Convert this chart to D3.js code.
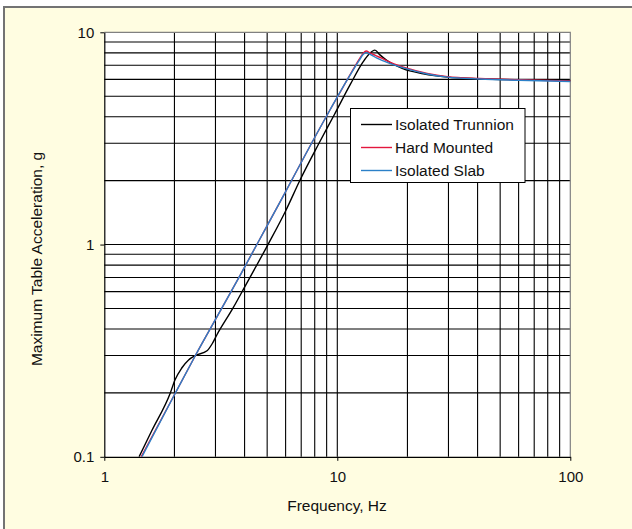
<!DOCTYPE html>
<html>
<head>
<meta charset="utf-8">
<script src="https://cdn.jsdelivr.net/npm/d3@7.9.0/dist/d3.min.js"></script>
<style>
  body { margin: 0; background: #fff; }
  svg text { font-family: "Liberation Sans", Arial, sans-serif; fill: #111; }
</style>
</head>
<body>
<svg id="chart" width="632" height="529"></svg>
<script>
// values (frequency in Hz, acceleration in g)
const trunnionF = [1.41, 1.6, 1.92, 2.01, 2.15, 2.3, 2.46, 2.76, 2.9, 3.04, 3.56, 4.0, 5.04, 6.0, 6.93, 8.29, 9.72, 11.4, 12.9, 13.7, 14.5, 15.2, 16.3, 19.1, 23.4, 29.7, 40.8, 60, 100];
const trunnionA = [0.1, 0.133, 0.2, 0.23, 0.262, 0.286, 0.3, 0.316, 0.34, 0.375, 0.5, 0.63, 1.0, 1.44, 2.02, 2.96, 4.1, 5.71, 7.25, 7.9, 8.24, 7.85, 7.38, 6.74, 6.38, 6.15, 6.04, 5.97, 5.93];

const hardF = [1.44, 2.0, 2.46, 3.19, 3.89, 4.56, 5.79, 7.36, 9.35, 10.96, 11.8, 12.4, 12.9, 13.3, 13.8, 14.5, 15.5, 17, 19.9, 24.3, 29.7, 40.8, 60, 100];
const hardA = [0.1, 0.196, 0.3, 0.5, 0.74, 1.02, 1.65, 2.7, 4.35, 5.9, 6.8, 7.45, 7.95, 8.17, 8.0, 7.8, 7.55, 7.2, 6.78, 6.4, 6.18, 6.06, 5.98, 5.9];

const slabF = [1.45, 2.0, 2.46, 3.19, 3.89, 4.56, 5.79, 7.36, 9.35, 10.96, 11.8, 12.4, 12.9, 13.3, 13.9, 14.8, 17, 19.9, 24.3, 29.7, 40.8, 60, 100];
const slabA = [0.1, 0.196, 0.3, 0.5, 0.74, 1.02, 1.65, 2.7, 4.35, 5.9, 6.75, 7.35, 7.85, 8.02, 7.85, 7.55, 7.1, 6.72, 6.36, 6.15, 6.03, 5.94, 5.86];

const seriesNames = ["Isolated Trunnion", "Hard Mounted", "Isolated Slab"];
const seriesColors = ["#000000", "#e3173e", "#2b80c8"];

const xTicks = [1, 10, 100];
const yTicks = [0.1, 1, 10];
const xGrid = [2, 3, 4, 5, 6, 7, 8, 9, 10, 20, 30, 40, 50, 60, 70, 80, 90];
const yGrid = [0.2, 0.3, 0.4, 0.5, 0.6, 0.7, 0.8, 0.9, 1, 2, 3, 4, 5, 6, 7, 8, 9];

const svg = d3.select("#chart");
const usableArea = { left: 104.3, right: 570.3, top: 32.3, bottom: 456.8 };

// page frame
svg.append("rect")
  .attr("x", 4).attr("y", 7)
  .attr("width", 640).attr("height", 540)
  .attr("fill", "#fffde1")
  .attr("stroke", "#737373")
  .attr("stroke-width", 2);

const xScale = d3.scaleLog().domain([1, 100]).range([usableArea.left, usableArea.right]);
const yScale = d3.scaleLog().domain([0.1, 10]).range([usableArea.bottom, usableArea.top]);

svg.append("rect")
  .attr("x", usableArea.left).attr("y", usableArea.top)
  .attr("width", usableArea.right - usableArea.left)
  .attr("height", usableArea.bottom - usableArea.top)
  .attr("fill", "#fff");

const grid = svg.append("g").attr("stroke", "#000").attr("stroke-width", 1.1);
grid.selectAll("line.v")
  .data(xGrid)
  .join("line")
  .attr("class", "v")
  .attr("x1", (d) => xScale(d)).attr("x2", (d) => xScale(d))
  .attr("y1", usableArea.top).attr("y2", usableArea.bottom);
grid.selectAll("line.h")
  .data(yGrid)
  .join("line")
  .attr("class", "h")
  .attr("x1", usableArea.left).attr("x2", usableArea.right)
  .attr("y1", (d) => yScale(d)).attr("y2", (d) => yScale(d));

// top / right border of plot area
svg.append("path")
  .attr("d", `M${usableArea.left},${usableArea.top}H${usableArea.right}V${usableArea.bottom}`)
  .attr("fill", "none")
  .attr("stroke", "#808080")
  .attr("stroke-width", 1.2);

const fmt = (d) => (d < 1 ? "0.1" : d3.format("d")(d));

const xAxis = svg.append("g")
  .attr("transform", `translate(0,${usableArea.bottom})`)
  .call(d3.axisBottom(xScale).tickValues(xTicks).tickFormat(fmt).tickSize(4).tickSizeOuter(0).tickPadding(11));
const yAxis = svg.append("g")
  .attr("transform", `translate(${usableArea.left},0)`)
  .call(d3.axisLeft(yScale).tickValues(yTicks).tickFormat(fmt).tickSize(4).tickSizeOuter(0).tickPadding(6));

[xAxis, yAxis].forEach((ax) => {
  ax.select(".domain").attr("stroke", "#000").attr("stroke-width", 1.2);
  ax.selectAll(".tick line").attr("stroke", "#000");
  ax.selectAll("text").style("font-size", "15px").attr("fill", "#111");
});

svg.append("text")
  .attr("x", 337).attr("y", 511)
  .attr("text-anchor", "middle")
  .style("font-size", "15.5px")
  .text("Frequency, Hz");

svg.append("text")
  .attr("transform", "translate(42,259) rotate(-90)")
  .attr("text-anchor", "middle")
  .style("font-size", "15.5px")
  .text("Maximum Table Acceleration, g");

// curves
const seriesData = [
  trunnionF.map((f, i) => ({ f, a: trunnionA[i] })),
  hardF.map((f, i) => ({ f, a: hardA[i] })),
  slabF.map((f, i) => ({ f, a: slabA[i] }))
];

svg.append("clipPath").attr("id", "plot-clip")
  .append("rect")
  .attr("x", usableArea.left).attr("y", usableArea.top - 2)
  .attr("width", usableArea.right - usableArea.left + 2)
  .attr("height", usableArea.bottom - usableArea.top + 2);

const line = d3.line()
  .x((d) => xScale(d.f))
  .y((d) => yScale(d.a))
  .curve(d3.curveMonotoneX);

svg.append("g")
  .attr("clip-path", "url(#plot-clip)")
  .selectAll("path")
  .data(seriesData)
  .join("path")
  .attr("d", line)
  .attr("fill", "none")
  .attr("stroke", (d, i) => seriesColors[i])
  .attr("stroke-width", 1.4);

// legend
const legend = svg.append("g");
legend.append("rect")
  .attr("x", 350.5).attr("y", 108.5)
  .attr("width", 174.5).attr("height", 74)
  .attr("fill", "#fff")
  .attr("stroke", "#000")
  .attr("stroke-width", 1);

const rows = legend.selectAll("g.row")
  .data(seriesNames)
  .join("g")
  .attr("class", "row")
  .attr("transform", (d, i) => `translate(0,${124.5 + i * 23})`);
rows.append("line")
  .attr("x1", 361).attr("x2", 392)
  .attr("stroke", (d, i) => seriesColors[i])
  .attr("stroke-width", 1.4);
rows.append("text")
  .attr("x", 395).attr("dy", "0.35em")
  .style("font-size", "15.5px")
  .text((d) => d);
</script>
</body>
</html>
